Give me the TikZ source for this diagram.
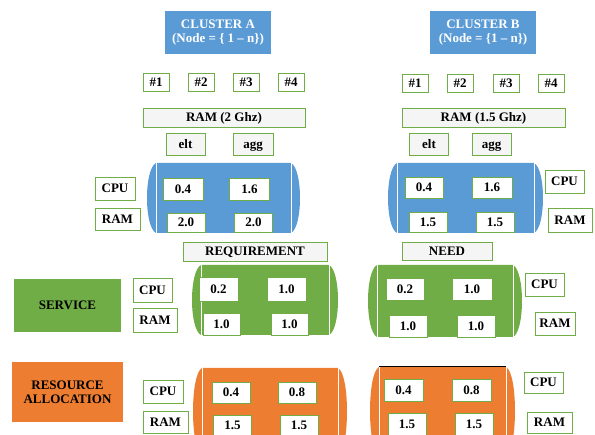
\documentclass[tikz,border=0pt]{standalone}
\usepackage{fontspec}
\setmainfont{Liberation Serif}
\usepackage{tikz}

\definecolor{clblue}{HTML}{5B9BD5}
\definecolor{clgreen}{HTML}{70AD47}
\definecolor{clorange}{HTML}{ED7D31}

% barrel shape: x1, y1, x2, y2, colour
\newcommand{\drumshape}[5]{%
  \fill[#5] (#1+9,#2) -- (#3-9,#2) .. controls (#3+3,#2+6) and (#3+3,#4-6) .. (#3-9,#4)
    -- (#1+9,#4) .. controls (#1-3,#4-6) and (#1-3,#2+6) .. cycle;
  \draw[white, line width=0.8pt] (#1+9,#2) -- (#1+9,#4) (#3-9,#2) -- (#3-9,#4);
}

\tikzset{
  txt/.style={font=\bfseries\fontsize{13}{14}\selectfont},
  lbl/.style={txt, draw=clgreen, line width=0.9pt, fill=white, inner sep=0pt,
    text height=11pt, text depth=2.5pt},
  bar/.style={lbl, fill=gray!8},
  head/.style={txt, fill=#1, inner sep=0pt, align=center}
}

\begin{document}
\begin{tikzpicture}[x=1pt, y=-1pt]
  \clip (0,0) rectangle (595,435);

  % clusters
  \node[head=clblue, text=white, minimum width=106, minimum height=43] (clA) at (218,32.5) {CLUSTER A\\(Node = \{ 1 -- n\})};
  \node[head=clblue, text=white, minimum width=106, minimum height=43] (clB) at (483,32.5) {CLUSTER B\\(Node = \{1 -- n\})};

  % nodes #1..#4
  \node[lbl, minimum width=26, minimum height=18] (hA1) at (156,82) {\#1};
  \node[lbl, minimum width=26, minimum height=18] (hA2) at (201,82) {\#2};
  \node[lbl, minimum width=26, minimum height=18] (hA3) at (246,82) {\#3};
  \node[lbl, minimum width=26, minimum height=18] (hA4) at (291,82) {\#4};
  \node[lbl, minimum width=26, minimum height=18] (hB1) at (415,83) {\#1};
  \node[lbl, minimum width=26, minimum height=18] (hB2) at (460,83) {\#2};
  \node[lbl, minimum width=26, minimum height=18] (hB3) at (506,83) {\#3};
  \node[lbl, minimum width=26, minimum height=18] (hB4) at (551,83) {\#4};

  \node[bar, minimum width=162, minimum height=19] (ramA) at (224,117.5) {RAM (2 Ghz)};
  \node[bar, minimum width=163, minimum height=19] (ramB) at (483.5,117.5) {RAM (1.5 Ghz)};

  \node[bar, minimum width=39, minimum height=22] (eltA) at (185.5,144) {elt};
  \node[bar, minimum width=40, minimum height=22] (aggA) at (253,144) {agg};
  \node[bar, minimum width=39, minimum height=22] (eltB) at (429,144) {elt};
  \node[bar, minimum width=39, minimum height=22] (aggB) at (491.5,144) {agg};

  % blue barrels
  \drumshape{147}{163}{300}{233}{clblue}
  \drumshape{388}{163}{543}{233}{clblue}
  \node[lbl, minimum width=40, minimum height=22] (bA1) at (183,189) {0.4};
  \node[lbl, minimum width=40, minimum height=22] (bA2) at (249.5,189) {1.6};
  \node[lbl, minimum width=38, minimum height=19] (bA3) at (186,222.5) {2.0};
  \node[lbl, minimum width=38, minimum height=19] (bA4) at (253.5,222.5) {2.0};
  \node[lbl, minimum width=38, minimum height=21] (bB1) at (424,187.5) {0.4};
  \node[lbl, minimum width=40, minimum height=21] (bB2) at (492,187.5) {1.6};
  \node[lbl, minimum width=38, minimum height=20] (bB3) at (428,222) {1.5};
  \node[lbl, minimum width=38, minimum height=20] (bB4) at (495,222) {1.5};

  \node[lbl, minimum width=40, minimum height=23] (cpuA) at (115,188.5) {CPU};
  \node[lbl, minimum width=45, minimum height=22] (rmA) at (117.5,219) {RAM};
  \node[lbl, minimum width=39, minimum height=23] (cpuB) at (564.5,181.5) {CPU};
  \node[lbl, minimum width=44, minimum height=24] (rmB) at (570,220) {RAM};

  % service
  \node[bar, minimum width=144, minimum height=19] (req) at (255,251.5) {REQUIREMENT};
  \node[bar, minimum width=90, minimum height=18] (need) at (447,251) {NEED};

  \drumshape{192}{265}{338}{335}{clgreen}
  \drumshape{368}{265}{522}{337}{clgreen}
  \node[lbl, minimum width=39, minimum height=24] (gA1) at (218.5,289) {0.2};
  \node[lbl, minimum width=39, minimum height=24] (gA2) at (286.5,289) {1.0};
  \node[lbl, minimum width=37, minimum height=22] (gA3) at (221.5,324) {1.0};
  \node[lbl, minimum width=37, minimum height=22] (gA4) at (289.5,324) {1.0};
  \node[lbl, minimum width=38, minimum height=22] (gB1) at (405,289) {0.2};
  \node[lbl, minimum width=40, minimum height=22] (gB2) at (472,289) {1.0};
  \node[lbl, minimum width=38, minimum height=22] (gB3) at (408,326) {1.0};
  \node[lbl, minimum width=38, minimum height=22] (gB4) at (476,326) {1.0};

  \node[lbl, minimum width=39, minimum height=24] (cpuSA) at (152.5,290) {CPU};
  \node[lbl, minimum width=44, minimum height=24] (rmSA) at (155,320) {RAM};
  \node[lbl, minimum width=39, minimum height=23] (cpuSB) at (544.5,284.5) {CPU};
  \node[lbl, minimum width=40, minimum height=23] (rmSB) at (555,323.5) {RAM};

  \node[head=clgreen, minimum width=107, minimum height=53] (serv) at (67.5,305.5) {SERVICE};

  % resource allocation
  \node[head=clorange, minimum width=111, minimum height=60] (alloc) at (67.5,392) {RESOURCE\\ALLOCATION};

  \drumshape{193}{368}{347}{455}{clorange}
  \drumshape{370}{367}{515}{455}{clorange}
  \draw[black, line width=1pt] (379,367) -- (506,367);
  \node[lbl, minimum width=38, minimum height=21] (oA1) at (231,392.5) {0.4};
  \node[lbl, minimum width=38, minimum height=21] (oA2) at (297,392.5) {0.8};
  \node[lbl, minimum width=38, minimum height=20] (oA3) at (232.5,425) {1.5};
  \node[lbl, minimum width=38, minimum height=20] (oA4) at (299,425) {1.5};
  \node[lbl, minimum width=39, minimum height=22] (oB1) at (403.5,390) {0.4};
  \node[lbl, minimum width=39, minimum height=22] (oB2) at (471.5,390) {0.8};
  \node[lbl, minimum width=38, minimum height=22] (oB3) at (407,424) {1.5};
  \node[lbl, minimum width=38, minimum height=22] (oB4) at (474,424) {1.5};

  \node[lbl, minimum width=40, minimum height=23] (cpuRA) at (163,391.5) {CPU};
  \node[lbl, minimum width=45, minimum height=22] (rmRA) at (165.5,422) {RAM};
  \node[lbl, minimum width=39, minimum height=21] (cpuRB) at (543.5,382.5) {CPU};
  \node[lbl, minimum width=45, minimum height=21] (rmRB) at (549.5,422.5) {RAM};
\end{tikzpicture}
\end{document}
